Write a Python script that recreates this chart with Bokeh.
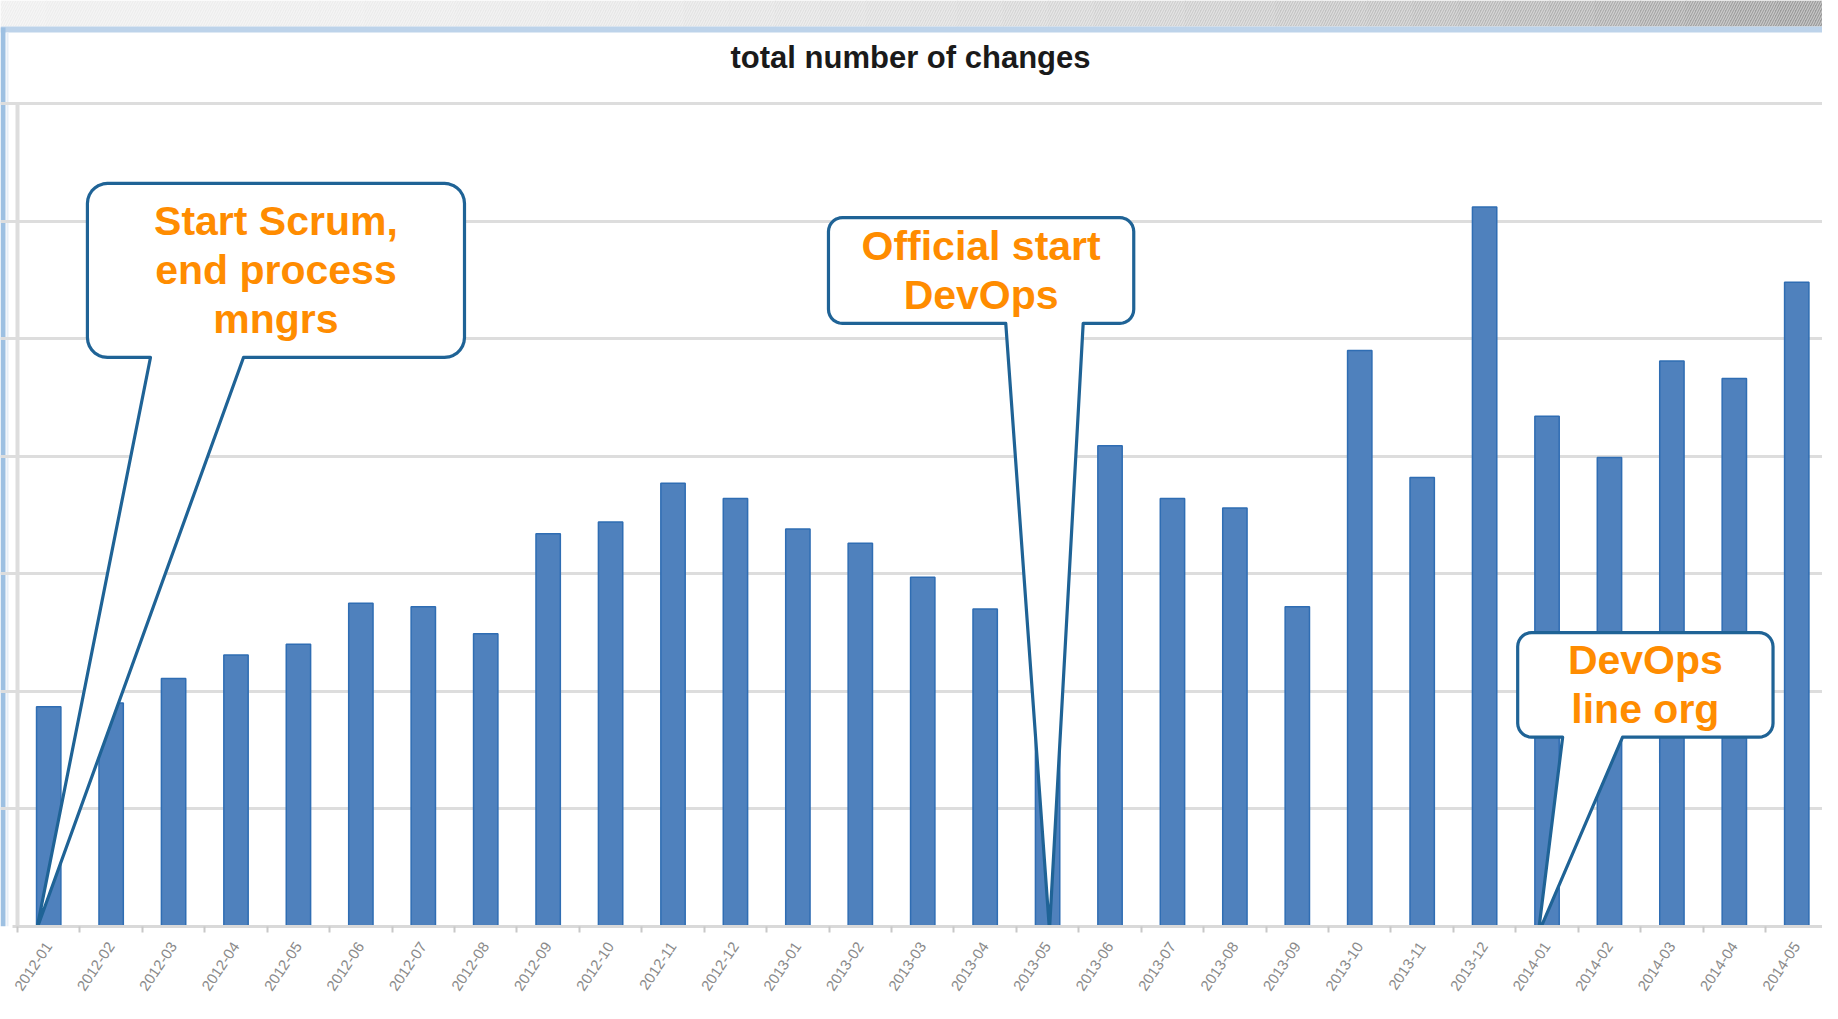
import numpy as np
from bokeh.plotting import figure
from bokeh.models import Range1d, FixedTicker, Grid, Label, BoxAnnotation, ColumnDataSource
from bokeh.core.properties import value
from bokeh.embed import file_html
from bokeh.resources import INLINE

# ---------------- data ----------------
months = ["2012-01", "2012-02", "2012-03", "2012-04", "2012-05", "2012-06",
          "2012-07", "2012-08", "2012-09", "2012-10", "2012-11", "2012-12",
          "2013-01", "2013-02", "2013-03", "2013-04", "2013-05", "2013-06",
          "2013-07", "2013-08", "2013-09", "2013-10", "2013-11", "2013-12",
          "2014-01", "2014-02", "2014-03", "2014-04", "2014-05"]
changes = [187, 190, 211, 231, 240, 275, 272, 249, 334, 344, 377, 364,
           338, 326, 297, 270, 360, 409, 364, 356, 272, 490, 382, 612,
           434, 399, 481, 466, 548]
grid_values = [0, 100, 200, 300, 400, 500, 600, 700]
title_text = "total number of changes"

# callouts: text lines, box (x0, x1, y_bottom, y_top), gap in box bottom (x), tip (x, y)
callout_lines = [["Start Scrum,", "end process", "mngrs"],
                 ["Official start", "DevOps"],
                 ["DevOps", "line org"]]
callout_boxes = [(0.62, 6.66, 484, 632), (12.49, 17.38, 513, 603), (23.53, 27.62, 161, 250)]
callout_gaps = [(1.63, 3.12), (15.33, 16.57), (24.25, 25.21)]
callout_tips = [(-0.19, -2), (16.03, -3), (23.86, -6)]
callout_radius_px = [20, 14, 14]

# ---------------- layout ----------------
W, H = 1822, 1003
MB = 77
n = len(months)
frame_w = W
frame_h = H - MB
ppx = 62.43                            # pixels per category slot
slot0_left_px = 17                     # canvas x where the first category slot starts
grid_top_canvas = 103                  # canvas y of top grid line (700)
ppu = (frame_h - grid_top_canvas) / grid_values[-1]   # pixels per value unit
y_end = frame_h / ppu
x_start = -0.5 - slot0_left_px / ppx
x_end = x_start + frame_w / ppx

def ypx(canvas_y):
    return (frame_h - canvas_y) / ppu

def xpx(canvas_x):
    return x_start + canvas_x / ppx

p = figure(width=W, height=H, output_backend="svg", toolbar_location=None,
           x_range=Range1d(x_start, x_end), y_range=Range1d(0, y_end),
           y_axis_location=None, min_border_left=0, min_border_right=0,
           min_border_top=0, min_border_bottom=MB)
p.outline_line_color = None
p.xgrid.visible = False
p.background_fill_color = "white"
p.border_fill_color = "white"

# screenshot window frame: top hatched band, blue rule, left blue border
nseg = 40
for k in range(nseg):
    t = k / (nseg - 1)
    g = int(238 - 85 * t ** 2.2)
    col = "#%02x%02x%02x" % (g, g, g)
    p.add_layout(BoxAnnotation(left=xpx(k * W / nseg), right=xpx((k + 1) * W / nseg + 1),
                               top=y_end, bottom=ypx(26),
                               fill_color=col, fill_alpha=1, line_color=None,
                               hatch_pattern="/", hatch_color="#ffffff", hatch_alpha=0.45,
                               hatch_scale=5, hatch_weight=1.2, level="underlay"))
p.add_layout(BoxAnnotation(left=xpx(0), right=x_end, top=ypx(26), bottom=ypx(32),
                           fill_color="#bdd3ea", fill_alpha=1, line_color=None, level="underlay"))
p.add_layout(BoxAnnotation(left=xpx(0), right=xpx(5), top=ypx(27), bottom=0,
                           fill_color="#9dc0e2", fill_alpha=1, line_color=None, level="underlay"))
p.add_layout(BoxAnnotation(left=xpx(6), right=xpx(8), top=ypx(32), bottom=0,
                           fill_color="#e6eef7", fill_alpha=1, line_color=None, level="underlay"))

# grid
grid = Grid(dimension=1, ticker=FixedTicker(ticks=grid_values),
            grid_line_color="#dddddd", grid_line_width=3, bounds=(xpx(12), x_end))
p.add_layout(grid)
p.segment(x0=[-0.5], y0=[0], x1=[-0.5], y1=[grid_values[-1]], line_color="#dddddd", line_width=4)

# bars
src = ColumnDataSource(dict(x=list(range(n)), top=changes, month=months))
p.vbar(x="x", top="top", width=0.39, bottom=0, source=src,
       fill_color="#4f81bd", line_color="#2f6db3", line_width=1.5)

# x axis
ax = p.xaxis[0]
ax.bounds = (xpx(12), x_end)
ax.ticker = FixedTicker(ticks=list(range(n)), minor_ticks=[i - 0.5 for i in range(n + 1)])
ax.major_label_overrides = {i: m for i, m in enumerate(months)}
ax.major_label_orientation = 0.98
ax.major_label_text_font = "Liberation Sans"
ax.major_label_text_font_size = "15px"
ax.major_label_text_color = "#8a8a8a"
ax.major_label_standoff = 11
ax.major_tick_line_color = None
ax.minor_tick_line_color = "#c8c8c8"
ax.minor_tick_line_width = 2
ax.minor_tick_out = 6
ax.minor_tick_in = 0
ax.axis_line_color = "#d9d9d9"
ax.axis_line_width = 3

# callouts
def callout_poly(box, gap, tip, r_px, steps=8):
    x0, x1, yb, yt = box
    rx, ry = r_px / ppx, r_px / ppu
    xs, ys = [gap[1]], [yb]
    def arc(cx, cy, a0, a1):
        for a in np.linspace(a0, a1, steps):
            xs.append(cx + rx * np.cos(a))
            ys.append(cy + ry * np.sin(a))
    arc(x1 - rx, yb + ry, -np.pi / 2, 0)
    arc(x1 - rx, yt - ry, 0, np.pi / 2)
    arc(x0 + rx, yt - ry, np.pi / 2, np.pi)
    arc(x0 + rx, yb + ry, np.pi, 1.5 * np.pi)
    xs.append(gap[0]); ys.append(yb)
    xs.append(tip[0]); ys.append(tip[1])
    return xs, ys

cxs, cys = [], []
for box, gap, tip, r in zip(callout_boxes, callout_gaps, callout_tips, callout_radius_px):
    xs, ys = callout_poly(box, gap, tip, r)
    cxs.append(xs); cys.append(ys)
p.patches(xs=cxs, ys=cys, fill_color="white", line_color="#1f6396", line_width=3.2, line_join="round")

line_px = 49
tx, ty, tt = [], [], []
for lines, box in zip(callout_lines, callout_boxes):
    cx = (box[0] + box[1]) / 2
    cy = (box[2] + box[3]) / 2
    m = len(lines)
    for j, s in enumerate(lines):
        tx.append(cx)
        ty.append(cy + ((m - 1) / 2 - j) * line_px / ppu)
        tt.append(s)
p.text(x=tx, y=ty, text=tt, text_align="center", text_baseline="middle",
       text_font=value("Liberation Sans"), text_font_style="bold",
       text_font_size="41px", text_color="#ff8c00")

# title
p.add_layout(Label(x=xpx(910), y=ypx(57), text=title_text,
                   text_align="center", text_baseline="middle",
                   text_font="Liberation Sans", text_font_style="bold",
                   text_font_size="31px", text_color="#1a1a1a"))

open("out.html", "w").write(file_html(p, INLINE))
